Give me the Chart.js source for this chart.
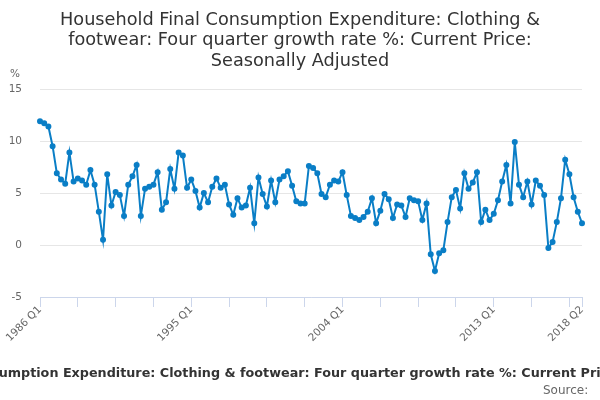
<!DOCTYPE html>
<html>
<head>
<meta charset="utf-8">
<title>Household Final Consumption Expenditure: Clothing & footwear</title>
<script src="https://cdn.jsdelivr.net/npm/chart.js@4.4.1/dist/chart.umd.min.js"></script>
<style>
  html, body { margin: 0; padding: 0; background: #fff; }
  #wrap { width: 600px; height: 400px; }
</style>
</head>
<body>
<div id="wrap"><canvas id="chart" width="600" height="400"></canvas></div>
<script>
// quarters 1986 Q1 .. 2018 Q2
const firstYear = 1986;
const lastYear = 2018;
const lastQuarter = 2;

// four quarter growth rate, %
const growth1986to1992 = [11.9, 11.7, 11.4, 9.5, 6.9, 6.3, 5.9, 8.9, 6.1, 6.4, 6.2, 5.8, 7.2, 5.8, 3.2, 0.5,
  6.8, 3.8, 5.1, 4.8, 2.8, 5.8, 6.6, 7.7, 2.8, 5.4];
const growth1992to1998 = [5.6, 5.8, 7.0, 3.4, 4.1, 7.3, 5.4, 8.9, 8.6, 5.5, 6.3, 5.2, 3.6, 5.0, 4.1, 5.6,
  6.4, 5.5, 5.8, 3.9, 2.9, 4.5, 3.6, 3.8, 5.5];
const growth1998to2004 = [2.1, 6.5, 4.9, 3.7, 6.2, 4.1, 6.3, 6.6, 7.1, 5.7, 4.2, 4.0, 4.0, 7.6, 7.4, 6.9,
  4.9, 4.6, 5.8, 6.2, 6.1, 7.0, 4.8, 2.8, 2.6];
const growth2005to2011 = [2.4, 2.7, 3.2, 4.5, 2.1, 3.3, 4.9, 4.4, 2.6, 3.9, 3.8, 2.7, 4.5, 4.3, 4.2, 2.4,
  4.0, -0.9, -2.5, -0.8, -0.5, 2.2, 4.6, 5.3, 3.5];
const growth2011to2018 = [6.9, 5.4, 6.0, 7.0, 2.2, 3.4, 2.4, 3.0, 4.3, 6.1, 7.7, 4.0, 9.9, 5.8, 4.6, 6.1,
  3.9, 6.2, 5.7, 4.8, -0.3, 0.3, 2.2, 4.5, 8.2, 6.8, 4.6, 3.2, 2.1];

const yTicks = [-5, 0, 5, 10, 15];

const chartTitle = ["Household Final Consumption Expenditure: Clothing &",
  "footwear: Four quarter growth rate %: Current Price:",
  "Seasonally Adjusted"];
const axisTitle = "Household Final Consumption Expenditure: Clothing & footwear: Four quarter growth rate %: Current Price: Seasonally Adjusted";

const quarters = [];
for (let y = firstYear; y <= lastYear; y++) {
  for (let q = 1; q <= 4; q++) {
    if (y === lastYear && q > lastQuarter) break;
    quarters.push(y + " Q" + q);
  }
}
const growth = [].concat(growth1986to1992, growth1992to1998, growth1998to2004,
  growth2005to2011, growth2011to2018);

const lastIndex = quarters.length - 1;
const hasTick = (i) => i % 9 === 0 || i === lastIndex;
const hasLabel = (i) => i % 36 === 0 || i === lastIndex;

// title centred on the canvas, slanted quarter labels, "%" unit,
// the over-long x title and the source line
const extraText = {
  id: "extraText",
  afterDraw(chart) {
    const ctx = chart.ctx;
    const area = chart.chartArea;
    const xs = chart.scales.x;
    ctx.save();
    ctx.fillStyle = "#333333";
    ctx.font = "17.7px 'DejaVu Sans'";
    ctx.textAlign = "center";
    ctx.textBaseline = "middle";
    chartTitle.forEach((line, i) => ctx.fillText(line, 300, 20.3 + i * 20.5));

    ctx.fillStyle = "#666666";
    ctx.font = "10.5px 'DejaVu Sans'";
    ctx.textAlign = "right";
    quarters.forEach((q, i) => {
      if (!hasLabel(i)) return;
      ctx.save();
      ctx.translate(xs.getPixelForValue(i), area.bottom + 11);
      ctx.rotate(-Math.PI / 4);
      ctx.fillText(q, 0, 0);
      ctx.restore();
    });
    ctx.textAlign = "left";
    ctx.fillText("%", 10, 74);

    ctx.fillStyle = "#333333";
    ctx.font = "bold 12.75px 'DejaVu Sans'";
    ctx.textAlign = "center";
    ctx.fillText(axisTitle, (area.left + area.right) / 2 - 3, 374);

    ctx.fillStyle = "#666666";
    ctx.font = "12px 'DejaVu Sans'";
    ctx.textAlign = "right";
    ctx.fillText("Source: ", 592, 391);
    ctx.restore();
  },
};

new Chart(document.getElementById("chart"), {
  type: "line",
  data: {
    labels: quarters,
    datasets: [{
      label: "Clothing & footwear",
      data: growth,
      borderColor: "#0a7ec6",
      backgroundColor: "#0a7ec6",
      borderWidth: 2,
      pointRadius: 2,
      pointHoverRadius: 3,
      tension: 0,
    }],
  },
  options: {
    responsive: false,
    animation: false,
    devicePixelRatio: 1,
    layout: { padding: { left: 8, right: 18, top: 89, bottom: 93 } },
    plugins: {
      legend: { display: false },
      tooltip: { enabled: false },
      title: { display: false },
    },
    scales: {
      x: {
        type: "category",
        offset: false,
        grid: {
          drawOnChartArea: false,
          drawTicks: true,
          tickLength: 10,
          color: (c) => (hasTick(c.index) ? "#ccd6eb" : "rgba(0,0,0,0)"),
        },
        border: { color: "#ccd6eb", width: 1 },
        ticks: { display: false, autoSkip: false },
      },
      y: {
        min: -5,
        max: 15,
        afterBuildTicks: (s) => { s.ticks = yTicks.map((v) => ({ value: v })); },
        afterFit: (s) => { s.width = 32; },
        grid: { color: "#e6e6e6", drawTicks: false },
        border: { display: false },
        ticks: {
          padding: 18,
          color: "#666666",
          font: { family: "'DejaVu Sans'", size: 10.5 },
        },
      },
    },
  },
  plugins: [extraText],
});
</script>
</body>
</html>
